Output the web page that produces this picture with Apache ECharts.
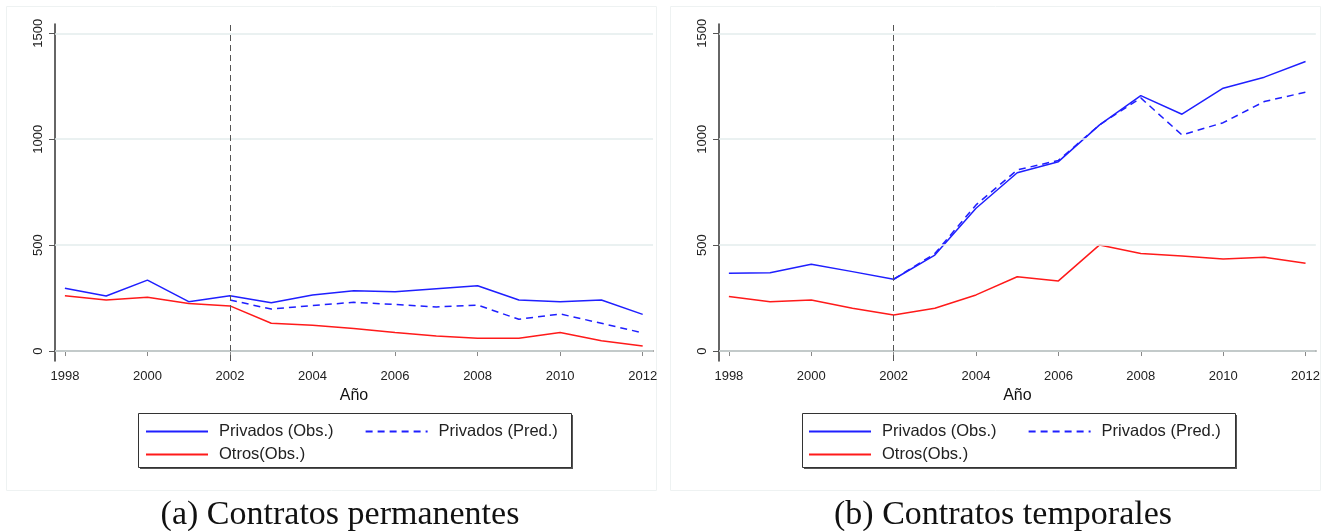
<!DOCTYPE html>
<html>
<head>
<meta charset="utf-8">
<script src="https://cdn.jsdelivr.net/npm/echarts@6/dist/echarts.min.js"></script>
<style>
  html, body { margin: 0; padding: 0; background: #fff; }
  #chart { width: 1323px; height: 531px; }
</style>
</head>
<body>
<div id="chart"></div>
<script>
// años
const years = [1998, 1999, 2000, 2001, 2002, 2003, 2004, 2005, 2006, 2007, 2008, 2009, 2010, 2011, 2012];
const yTicks = [0, 500, 1000, 1500];

// (a) contratos permanentes
const privObsPerm = [296, 260, 335, 233, 261, 228, 265, 285, 280, 294, 308, 241, 233, 241, 173];
const privPredPerm = [null, null, null, null, 241, 198, 215, 230, 220, 208, 217, 150, 175, 131, 86];
const otrosObsPerm = [261, 241, 254, 225, 213, 131, 122, 107, 88, 71, 60, 60, 88, 49, 24];

// (b) contratos temporales
const privObsTemp = [367, 370, 410, 375, 339, 453, 674, 842, 894, 1068, 1206, 1118, 1241, 1293, 1367];
const privPredTemp = [null, null, null, null, 339, 460, 690, 855, 900, 1068, 1195, 1020, 1078, 1178, 1222];
const otrosObsTemp = [257, 233, 241, 202, 170, 202, 265, 351, 331, 501, 461, 449, 435, 443, 414];

const names = ['Privados (Obs.)', 'Privados (Pred.)', 'Otros(Obs.)'];
const captions = ['(a) Contratos permanentes', '(b) Contratos temporales'];

const BLUE = '#1f1fff';
const RED = '#ff1a1a';
const sans = 'Liberation Sans, Arial, sans-serif';

function pairs(vals) {
  return years.map((y, i) => [y, vals[i]]).filter(p => p[1] != null);
}

function xAxisFor(idx) {
  return {
    type: 'value', gridIndex: idx, min: 1997.76, max: 2012.25,
    name: 'Año', nameLocation: 'middle', nameGap: 25,
    nameTextStyle: { fontFamily: sans, fontSize: 16, color: '#111' },
    axisLine: { lineStyle: { color: '#333', width: 1.5 } },
    axisTick: { show: true, length: 5, lineStyle: { color: '#888' }, customValues: years.filter(y => y % 2 === 0) },
    axisLabel: {
      customValues: years.filter(y => y % 2 === 0), formatter: v => String(v),
      fontFamily: sans, fontSize: 13, color: '#222', margin: 9
    },
    splitLine: { show: false }
  };
}

function yAxisFor(idx) {
  return {
    type: 'value', gridIndex: idx, min: -47, max: 1544,
    axisLine: { show: true, lineStyle: { color: '#333', width: 1.5 } },
    axisTick: { show: true, length: 6, lineStyle: { color: '#555' }, customValues: yTicks },
    axisLabel: {
      customValues: yTicks, formatter: v => String(v), rotate: 90,
      fontFamily: sans, fontSize: 13, color: '#222', margin: 10
    },
    splitLine: { show: false }
  };
}

function seriesFor(idx, obs, pred, otros) {
  const grid = {
    type: 'line', xAxisIndex: idx, yAxisIndex: idx, symbol: 'none', silent: true,
    lineStyle: { width: 0 }, data: [],
    markLine: {
      symbol: 'none', silent: true, label: { show: false },
      lineStyle: { color: '#e3eded', width: 1.5, type: 'solid' },
      data: yTicks.map(v => ({ yAxis: v }))
    }
  };
  return [
    grid,
    {
      name: names[0], type: 'line', xAxisIndex: idx, yAxisIndex: idx, symbol: 'none',
      color: BLUE, lineStyle: { color: BLUE, width: 1.5 }, data: pairs(obs), z: 3,
      markLine: {
        symbol: 'none', silent: true, label: { show: false },
        lineStyle: { color: '#555', width: 1, type: [6, 4] },
        data: [{ xAxis: 2002 }]
      }
    },
    {
      name: names[1], type: 'line', xAxisIndex: idx, yAxisIndex: idx, symbol: 'none',
      color: BLUE, lineStyle: { color: BLUE, width: 1.5, type: [7, 5] }, data: pairs(pred), z: 3
    },
    {
      name: names[2], type: 'line', xAxisIndex: idx, yAxisIndex: idx, symbol: 'none',
      color: RED, lineStyle: { color: RED, width: 1.5 }, data: pairs(otros), z: 3
    }
  ];
}

function legendsFor(dx) {
  const common = {
    orient: 'horizontal', padding: 0, itemWidth: 62, itemHeight: 12, itemGap: 31,
    selectedMode: false, z: 5,
    itemStyle: { opacity: 0 },
    textStyle: { fontFamily: sans, fontSize: 16.5, color: '#222', padding: [0, 0, 0, 6] }
  };
  return [
    Object.assign({}, common, { left: 145 + dx, top: 423, data: [names[0], names[1]] }),
    Object.assign({}, common, { left: 145 + dx, top: 446, data: [names[2]] })
  ];
}

function boxesFor(dx) {
  return [
    {
      type: 'rect', left: 6 + dx, top: 6, z: -10,
      shape: { width: 650, height: 484 },
      style: { fill: '#fff', stroke: '#eef2f2', lineWidth: 1 }
    },
    {
      type: 'rect', left: 140 + dx, top: 415, z: 1,
      shape: { width: 433, height: 54 },
      style: { fill: '#555', stroke: null }
    },
    {
      type: 'rect', left: 138 + dx, top: 413, z: 2,
      shape: { width: 433, height: 54 },
      style: { fill: '#fff', stroke: '#333', lineWidth: 1 }
    }
  ];
}

const chart = echarts.init(document.getElementById('chart'));
chart.setOption({
  animation: false,
  backgroundColor: '#fff',
  title: captions.map((t, i) => ({
    text: t, left: 340 + i * 663, top: 498, textAlign: 'center', padding: 0,
    textStyle: { fontFamily: 'Liberation Serif, serif', fontSize: 34, fontWeight: 'normal', color: '#111' }
  })),
  graphic: boxesFor(0).concat(boxesFor(664)),
  legend: legendsFor(0).concat(legendsFor(663)),
  grid: [
    { left: 55, right: 670, top: 24, bottom: 170 },
    { left: 719, right: 5, top: 24, bottom: 170 }
  ],
  xAxis: [xAxisFor(0), xAxisFor(1)],
  yAxis: [yAxisFor(0), yAxisFor(1)],
  series: seriesFor(0, privObsPerm, privPredPerm, otrosObsPerm)
    .concat(seriesFor(1, privObsTemp, privPredTemp, otrosObsTemp))
});
window.addEventListener('resize', () => chart.resize());
</script>
</body>
</html>
